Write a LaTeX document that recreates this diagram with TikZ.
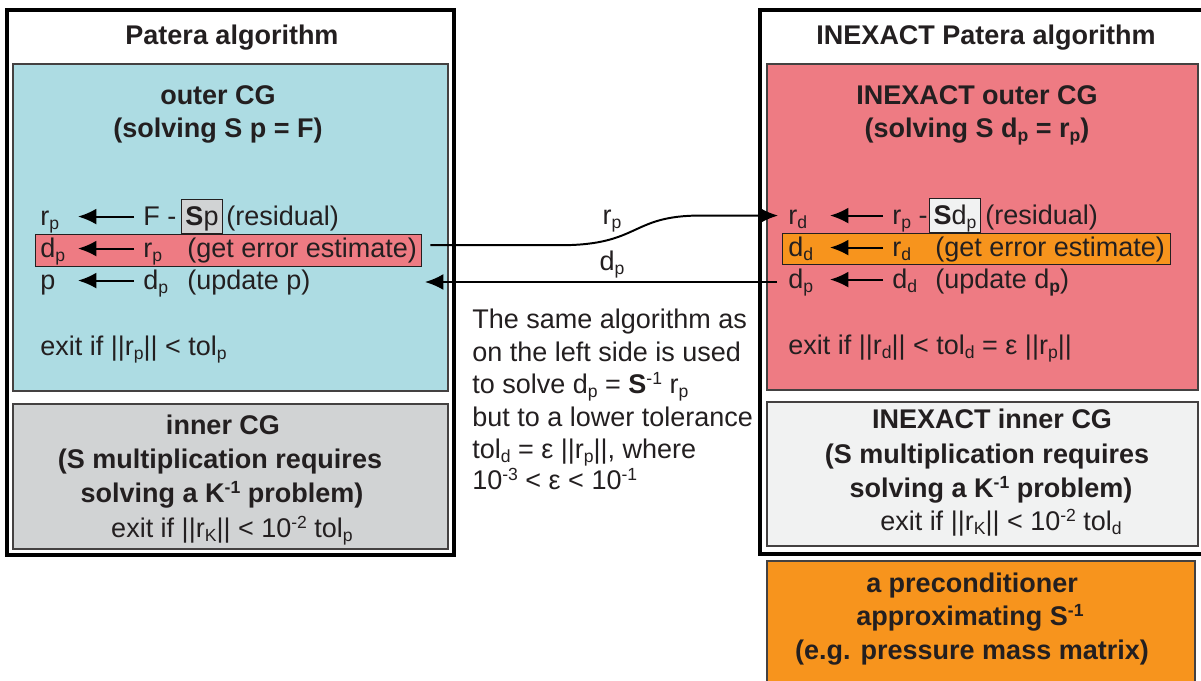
\documentclass[tikz,border=0pt]{standalone}
\usepackage{fontspec}
\setmainfont{Liberation Sans}
\usetikzlibrary{arrows.meta,fit}

\definecolor{cgcyan}{HTML}{ADDCE3}
\definecolor{cggray}{HTML}{D1D3D4}
\definecolor{cgpink}{HTML}{EE7B83}
\definecolor{cglight}{HTML}{F1F2F2}
\definecolor{cgorange}{HTML}{F7941D}
\definecolor{ink}{HTML}{231F20}

\newcommand{\cgsize}{\fontsize{19.2pt}{23pt}\selectfont}
\newcommand{\subtxt}[1]{\raisebox{-0.17em}{\fontsize{12.5pt}{12.5pt}\selectfont #1}}
\newcommand{\suptxt}[1]{\raisebox{0.3em}{\fontsize{12.5pt}{12.5pt}\selectfont #1}}

\tikzset{
  framebox/.style={draw=black, line width=2.8pt, inner sep=0pt},
  panel/.style={draw=ink!85, line width=0.9pt, inner sep=0pt},
  hilite/.style={draw=ink, line width=0.7pt, inner sep=0pt},
  lhs/.style={anchor=base west, inner sep=0pt, text height=12pt, text depth=0pt},
  plain/.style={anchor=base, inner sep=0pt},
  heading/.style={anchor=base, inner sep=0pt, font=\cgsize\bfseries},
  sbox/.style={draw=ink, line width=0.7pt, anchor=base west, inner xsep=0.1cm,
    inner ysep=0.05cm, text height=0.6cm, text depth=0.15cm},
  rowarrow/.style={-{Latex[length=0.46cm,width=0.4cm]}, line width=1.5pt, shorten <=0.22cm},
  conn/.style={-{Latex[length=0.46cm,width=0.4cm]}, line width=1.4pt},
}

\begin{document}
\begin{tikzpicture}[x=0.025cm, y=-0.025cm, font=\cgsize, text=ink]
  \fill[white] (0,0) rectangle (1201,680);
  \useasboundingbox (0,0) rectangle (1201,680);

  % exact Patera algorithm
  \node[framebox, fit={(7,10) (454,555)}] (patera) {};
  \node[panel, fill=cgcyan, fit={(13,64) (448,391)}] (outerL) {};
  \node[panel, fill=cggray, fit={(13,404) (448,549)}] (innerL) {};
  \node[hilite, fill=cgpink, fit={(35,234) (421,266)}] (errL) {};

  \node[heading] (titleL) at (232,44) {Patera algorithm};
  \node[heading] (cgL) at (218,104) {outer CG};
  \node[heading] (eqL) at (218,137) {(solving S p = F)};

  \node[lhs] (rpL) at (40,225) {r\subtxt{p}};
  \node[lhs] (FL) at (143,225) {F -};
  \node[sbox, fill=cggray] (SpL) at (181,225) {\textbf{S}p};
  \node[lhs] (resL) at (226,225) {(residual)};
  \node[lhs] (dpL) at (40,257) {d\subtxt{p}};
  \node[lhs] (rpL2) at (143,257) {r\subtxt{p}};
  \node[lhs] (estL) at (187,257) {(get error estimate)};
  \node[lhs] (pL) at (40,289) {p};
  \node[lhs] (dpL2) at (143,289) {d\subtxt{p}};
  \node[lhs] (updL) at (187,289) {(update p)};
  \node[lhs] (exitL) at (40,355) {exit if ||r\subtxt{p}|| < tol\subtxt{p}};
  \foreach \a/\b in {FL/rpL, rpL2/dpL, dpL2/pL}
    \draw[rowarrow] (\a.west) -- ([xshift=0.95cm]\b.west);

  \node[heading] (inL1) at (223,434) {inner CG};
  \node[heading] (inL2) at (220,468) {(S multiplication requires};
  \node[heading] (inL3) at (222,502) {solving a K\suptxt{-1} problem)};
  \node[plain] (inL4) at (232,537) {exit if ||r\subtxt{K}|| < 10\suptxt{-2} tol\subtxt{p}};

  % inexact Patera algorithm
  \node[framebox, fit={(760,10) (1215,554)}] (inexact) {};
  \node[panel, fill=cgpink, fit={(767,64) (1198,390)}] (outerR) {};
  \node[panel, fill=cglight, fit={(767,402) (1198,546)}] (innerR) {};
  \node[hilite, fill=cgorange, fit={(782,233) (1170,264)}] (errR) {};
  \node[panel, fill=cgorange, fit={(767,561) (1195,700)}] (precR) {};

  \node[heading] (titleR) at (986,44) {INEXACT Patera algorithm};
  \node[heading] (cgR) at (977,104) {INEXACT outer CG};
  \node[heading] (eqR) at (977,137) {(solving S d\subtxt{p} = r\subtxt{p})};

  \node[lhs] (rdR) at (788,224) {r\subtxt{d}};
  \node[lhs] (rpR) at (892,224) {r\subtxt{p} -};
  \node[sbox, fill=cglight] (SdR) at (929,224) {\textbf{S}d\subtxt{p}};
  \node[lhs] (resR) at (985,224) {(residual)};
  \node[lhs] (ddR) at (788,256) {d\subtxt{d}};
  \node[lhs] (rdR2) at (892,256) {r\subtxt{d}};
  \node[lhs] (estR) at (935,256) {(get error estimate)};
  \node[lhs] (dpR) at (788,288) {d\subtxt{p}};
  \node[lhs] (ddR2) at (892,288) {d\subtxt{d}};
  \node[lhs] (updR) at (935,288) {(update d\subtxt{\textbf{p}})};
  \node[lhs] (exitR) at (788,354) {exit if ||r\subtxt{d}|| < tol\subtxt{d} = ε ||r\subtxt{p}||};
  \foreach \a/\b in {rpR/rdR, rdR2/ddR, ddR2/dpR}
    \draw[rowarrow] (\a.west) -- ([xshift=1.05cm]\b.west);

  \node[heading] (inR1) at (992,428) {INEXACT inner CG};
  \node[heading] (inR2) at (987,463) {(S multiplication requires};
  \node[heading] (inR3) at (991,497) {solving a K\suptxt{-1} problem)};
  \node[plain] (inR4) at (1001,530) {exit if ||r\subtxt{K}|| < 10\suptxt{-2} tol\subtxt{d}};

  \node[heading] (prR1) at (972,592) {a preconditioner};
  \node[heading] (prR2) at (970,625) {approximating S\suptxt{-1}};
  \node[heading] (prR3) at (972,659) {(e.g. pressure mass matrix)};

  % explanation in the middle
  \foreach \y/\t [count=\i] in {328/The same algorithm as, 361/on the left side is used,
      393/{to solve d\subtxt{p} = \textbf{S}\suptxt{-1} r\subtxt{p}},
      426/but to a lower tolerance, 458/{tol\subtxt{d} = ε ||r\subtxt{p}||, where},
      489/{10\suptxt{-3} < ε < 10\suptxt{-1}}}
    \node[anchor=base west, inner sep=0pt] (note\i) at (472,\y) {\t};

  % connectors between the two algorithms
  \node[plain] (lblr) at (612,224) {r\subtxt{p}};
  \node[plain] (lbld) at (612,270) {d\subtxt{p}};
  \coordinate (dpin) at (425,282);
  \draw[conn, shorten >=0.25cm] ([shift={(0.22cm,0.12cm)}]errL.east) -- ++(130,0)
    .. controls +(80,0) and +(-70,0) .. ([xshift=-2.2cm]rdR.west) -- (rdR.west);
  \draw[conn, shorten <=0.27cm] (dpR.west |- dpin) -- (dpin);
\end{tikzpicture}
\end{document}
